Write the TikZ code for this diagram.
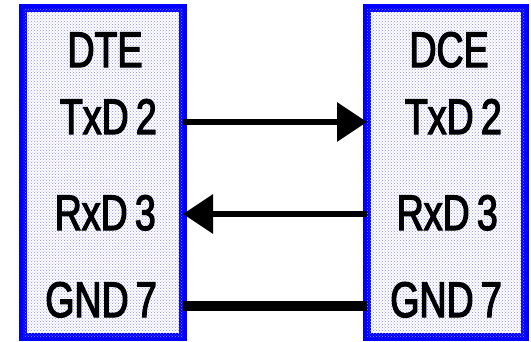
\documentclass[tikz,border=0pt]{standalone}
\usepackage{fontspec}
\setmainfont{Liberation Sans}
\newfontfamily\pinfont[FakeStretch=0.75,FakeBold=2.5,WordSpace=0.7]{Liberation Sans}
\usetikzlibrary{arrows.meta,patterns}
\tikzset{
  unit/.style={draw=blue, line width=8pt, fill=white,
    postaction={pattern=crosshatch dots, pattern color=blue!45},
    minimum height=329pt, inner sep=0pt, outer sep=0pt},
  pin/.style={font=\pinfont\fontsize{50}{50}\selectfont, inner sep=0pt},
  signal/.style={line width=6.5pt, -{Triangle[length=30pt,width=38pt]}},
  ground/.style={line width=9.5pt}
}
\begin{document}
\begin{tikzpicture}[x=1pt,y=-1pt]
\useasboundingbox (0,0) rectangle (531,341);
% the two equipment blocks
\node[unit, minimum width=160pt] (dte) at (103,172.5) {};
\node[unit, minimum width=158pt] (dce) at (446,172.5) {};
% DTE side labels
\node[pin, anchor=base] (dtet) at (105,67) {DTE};
\node[pin, anchor=base east] (dtetx) at (157,134) {TxD 2};
\node[pin, anchor=base east] (dterx) at (156,230) {RxD 3};
\node[pin, anchor=base east] (dtegnd) at (157,317) {GND 7};
% DCE side labels
\node[pin, anchor=base] (dcet) at (449,67) {DCE};
\node[pin, anchor=base east] (dcetx) at (502,134) {TxD 2};
\node[pin, anchor=base east] (dcerx) at (498,230) {RxD 3};
\node[pin, anchor=base east] (dcegnd) at (502,317) {GND 7};
% wiring levels
\coordinate (ytx) at (0,122);
\coordinate (yrx) at (0,214);
\coordinate (ygnd) at (0,306);
% connections
\draw[signal] (dte.east |- ytx) -- (dce.west |- ytx);
\draw[signal] (dce.west |- yrx) -- (dte.east |- yrx);
\draw[ground] (dte.east |- ygnd) -- (dce.west |- ygnd);
\end{tikzpicture}
\end{document}
